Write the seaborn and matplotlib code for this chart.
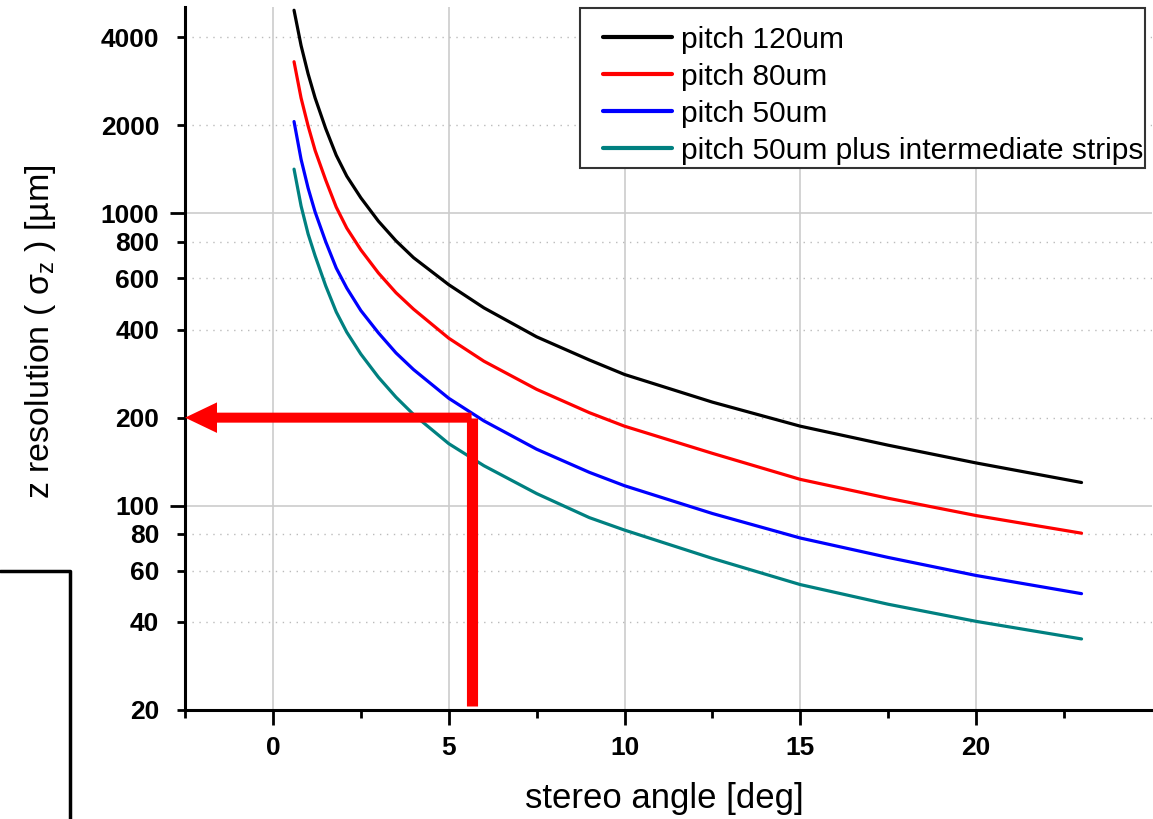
import pandas as pd
import matplotlib.pyplot as plt
import seaborn as sns
from matplotlib.ticker import FixedLocator, FixedFormatter, NullFormatter
from matplotlib.lines import Line2D
from matplotlib.patches import Rectangle

# stereo angle [deg] and z resolution [um]
angle = [0.6, 0.8, 1.0, 1.2, 1.5, 1.8, 2.1, 2.5, 3.0, 3.5, 4.0,
         5.0, 6.0, 7.5, 9.0, 10.0, 12.5, 15.0, 17.5, 20.0, 23.0]
res_120 = [4950, 3750, 3000, 2480, 1950, 1580, 1340, 1130, 940, 805, 705,
           570, 475, 378, 315, 281, 226, 187, 161, 140, 120]
res_80 = [3300, 2480, 1990, 1640, 1300, 1050, 890, 750, 625, 535, 470,
          374, 312, 250, 208, 187, 151, 123, 106, 92.5, 80.5]
res_50 = [2060, 1530, 1220, 1010, 800, 650, 555, 465, 390, 333, 292,
          233, 195, 156, 130, 117, 94, 77.5, 66.5, 57.7, 50]
res_50_strips = [1416, 1060, 850, 715, 565, 460, 392, 330, 275, 235, 205,
                 163, 137, 110, 91, 82.5, 66, 53.7, 46, 40.2, 35]

series_names = ['pitch 120um', 'pitch 80um', 'pitch 50um',
                'pitch 50um plus intermediate strips']
series_vals = [res_120, res_80, res_50, res_50_strips]
series_colors = ['black', '#ff0000', '#0000ff', '#008080']

y_major = [100, 1000]
y_minor = [20, 40, 60, 80, 200, 400, 600, 800, 2000, 4000]
x_major = [0, 5, 10, 15, 20]
x_minor = [-2.5, 2.5, 7.5, 12.5, 17.5, 22.5]

# working point marked with the red arrow
target_angle = 5.65
target_res = 200

sns.set_style('ticks')
plt.rcParams['font.family'] = ['Liberation Sans', 'DejaVu Sans']
plt.rcParams['mathtext.fontset'] = 'custom'
plt.rcParams['mathtext.rm'] = 'Liberation Sans'
for key in ['text.color', 'axes.labelcolor', 'xtick.color', 'ytick.color']:
    plt.rcParams[key] = 'black'

fig = plt.figure(figsize=(11.53, 8.19), dpi=100)
ax = fig.add_axes([0.1605, 0.1331, 0.8385, 0.8584])

for name, vals, col in zip(series_names, series_vals, series_colors):
    df = pd.DataFrame({'angle': angle, 'res': vals})
    sns.lineplot(data=df, x='angle', y='res', color=col, lw=2.3,
                 label=name, estimator=None, ax=ax)

ax.set_yscale('log')
ax.set_xlim(-2.5, 25)
ax.set_ylim(20, 5080)

ax.xaxis.set_major_locator(FixedLocator(x_major))
ax.xaxis.set_minor_locator(FixedLocator(x_minor))
ax.xaxis.set_minor_formatter(NullFormatter())
ax.yaxis.set_major_locator(FixedLocator(y_major))
ax.yaxis.set_major_formatter(FixedFormatter([str(v) for v in y_major]))
ax.yaxis.set_minor_locator(FixedLocator(y_minor))
ax.yaxis.set_minor_formatter(FixedFormatter([str(v) for v in y_minor]))

ax.grid(which='major', axis='x', color='#cccccc', lw=1.2, ls='-')
ax.grid(which='major', axis='y', color='#cccccc', lw=1.2, ls='-')
ax.grid(which='minor', axis='y', color='#bbbbbb', lw=1.0, ls=(0, (1, 4)))
ax.set_axisbelow(True)

sns.despine(ax=ax)
for s in ['left', 'bottom']:
    ax.spines[s].set_linewidth(2.2)
    ax.spines[s].set_color('black')

ax.tick_params(axis='both', which='major', length=10.5, width=2, color='black',
               labelsize=19, labelcolor='black', direction='out')
ax.tick_params(axis='both', which='minor', length=6, width=2, color='black',
               labelsize=19, labelcolor='black', direction='out')
ax.tick_params(axis='y', which='major', pad=8)
ax.tick_params(axis='y', which='minor', pad=12.5)
ax.tick_params(axis='x', which='major', pad=8)
for lab in ax.get_xticklabels() + ax.get_yticklabels() + ax.get_yticklabels(minor=True):
    lab.set_fontweight('bold')

ax.set_xlabel('stereo angle [deg]', fontsize=25)
ax.set_ylabel(r'z resolution ( σ$_{\mathrm{z}}$ ) [µm]', fontsize=24.5)
ax.xaxis.set_label_coords(0.496, -0.102)
ax.yaxis.set_label_coords(-0.131, 0.538)

# red arrow: from the angle axis up to the curve, then over to the resolution axis
ax.plot([target_angle, target_angle], [20.7, target_res], color='#ff0000',
        lw=8, solid_capstyle='butt')
ax.annotate('', xy=(-2.5, target_res), xytext=(target_angle, target_res),
            arrowprops=dict(facecolor='#ff0000', edgecolor='none', width=7.2,
                            headwidth=22, headlength=23, shrink=0))

# legend frame drawn separately (the original box is not centred on its entries)
ax.add_patch(Rectangle((0.4085, 0.771), 0.5843, 0.2276, transform=ax.transAxes,
                       facecolor='white', edgecolor='#333333', lw=1.5,
                       zorder=4.5, clip_on=False))
leg = ax.legend(loc='upper left', bbox_to_anchor=(0.4323, 0.973), borderaxespad=0,
                fontsize=21.5, frameon=False, handlelength=2.31,
                handletextpad=0.3, labelspacing=0.30, borderpad=0)
for h in leg.get_lines():
    h.set_linewidth(3)
for t in leg.get_texts():
    t.set_color('black')

# fragment of a box in the lower left corner of the slide
fig.add_artist(Line2D([0, 0.0605, 0.0605], [0.303, 0.303, 0], color='black',
                      lw=2.5, transform=fig.transFigure))

fig.savefig('out.png', dpi=100)
